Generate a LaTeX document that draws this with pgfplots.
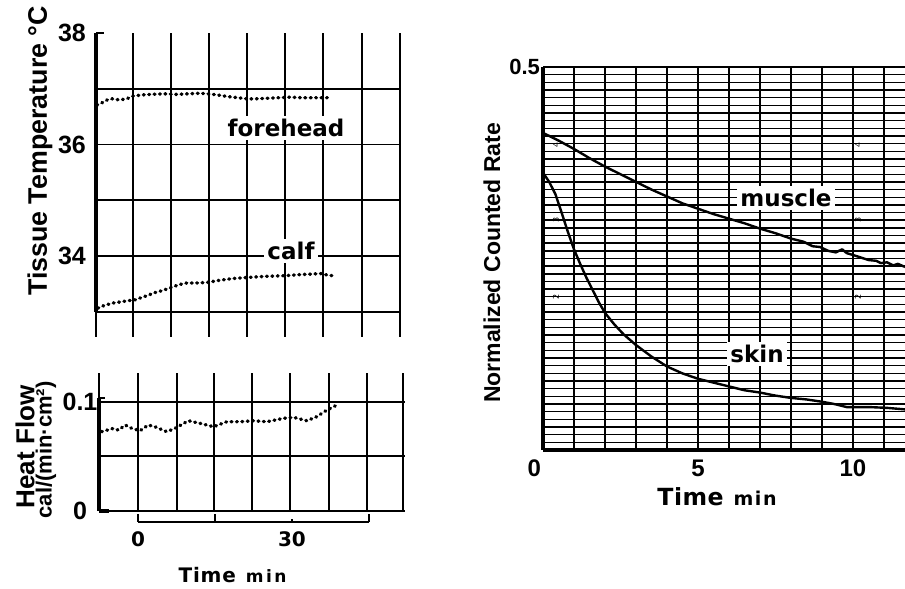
\documentclass[border=0pt]{standalone}
\usepackage{fontspec}
\setmainfont{DejaVu Sans}
\newfontfamily\lib{Liberation Sans}
\usepackage{pgfplots}
\pgfplotsset{compat=1.18}

% tick label text in a chosen face and size
\newcommand{\tl}[2]{\mbox{\lib\bfseries\fontsize{#1}{#1}\selectfont #2}}

% chart-paper look shared by the panels
\pgfplotsset{
  paper/.style={
    scale only axis,
    clip=false,
    axis line style={draw=none},
    tick style={draw=none},
    major tick length=0pt,
    minor tick length=0pt,
    grid style={black, line width=0.9pt},
    /pgf/number format/assume math mode=true,
  },
  trace/.style={black, line width=1.7pt, line cap=round,
    dash pattern=on 0.4pt off 2.3pt, no marks},
  curve/.style={black, line width=1.2pt, no marks, line join=round},
}

\begin{document}
\begin{tikzpicture}
\path[use as bounding box] (0,0) rectangle (452.5pt,294.5pt);

% ---------------- tissue temperature ----------------
\begin{axis}[paper,
  at={(48pt,126pt)}, anchor=south west,
  width=152pt, height=152pt,
  xmin=-8.18, xmax=51.04, ymin=32.552, ymax=38,
  xtick={-8.18,-0.97,6.43,13.83,21.24,28.64,36.04,43.64,51.04},
  xticklabels={}, xmajorgrids,
  ytick={34,36,38}, yticklabels={\tl{12.5}{34},\tl{12.5}{36},\tl{12.5}{38}},
  yticklabel style={anchor=center, xshift=-12pt},
  extra y ticks={33,34,35,36,37}, extra y tick labels={},
  extra y tick style={grid=major},
]
\draw[line width=1.7pt] (axis cs:-8.18,33) -- (axis cs:-8.18,38);
\draw[line width=1pt] (axis cs:-8.18,38) -- (axis cs:-6.6,38);
% forehead
\addplot[trace] coordinates {
 (-8.0,36.71) (-7.2,36.74) (-6.0,36.80) (-5.0,36.82) (-3.6,36.80) (-2.2,36.82)
 (-1.0,36.87) (0.8,36.89) (2.5,36.90) (5,36.91) (7.5,36.90) (9.8,36.91)
 (12,36.92) (13.6,36.91) (15.5,36.89) (17.5,36.86) (19.5,36.84) (21.2,36.82)
 (23,36.82) (25,36.83) (27.5,36.84) (29.6,36.85) (32,36.84) (34.5,36.84) (37.4,36.84)};
% calf
\addplot[trace] coordinates {
 (-7.8,33.07) (-6.5,33.12) (-4.9,33.16) (-3.5,33.18) (-2.1,33.20) (-0.5,33.22)
 (0.4,33.25) (2,33.30) (3,33.34) (4.6,33.38) (6.2,33.43) (8,33.49) (9.5,33.52)
 (11.5,33.52) (13.5,33.53) (16,33.57) (18.5,33.60) (21.5,33.62) (25.1,33.64)
 (28.5,33.65) (31.6,33.67) (34,33.68) (35.5,33.69) (37,33.66) (38,33.65)};
\end{axis}

% ---------------- heat flow ----------------
\begin{axis}[paper,
  at={(49.5pt,39pt)}, anchor=south west,
  width=153pt, height=69pt,
  xmin=-7.6, xmax=52.0, ymin=0, ymax=0.1263,
  xtick={-7.6,0,7.60,14.81,22.21,29.61,37.21,44.61,51.62},
  xticklabels={}, xmajorgrids,
  ytick={0,0.1}, yticklabels={\tl{12.5}{0},\tl{12.5}{0.1}},
  yticklabel style={anchor=center, xshift=-9.5pt},
  extra y ticks={0,0.05,0.1}, extra y tick labels={},
  extra y tick style={grid=major},
]
\draw[line width=1.6pt] (axis cs:-7.6,0) -- (axis cs:-7.6,0.1034);
\draw[line width=1pt] (axis cs:-7.6,0.1034) -- (axis cs:-6.4,0.1034);
\draw[line width=1.6pt] (axis cs:-7.6,0) -- (axis cs:-5.6,0);
\addplot[trace] coordinates {
 (-7.1,0.0726) (-4.8,0.0756) (-3.8,0.0740) (-2.5,0.0787) (-1.2,0.0756)
 (0.4,0.0735) (2.0,0.0787) (3.3,0.0771) (5.6,0.0726) (7.2,0.0756)
 (9.8,0.0826) (12.1,0.0802) (14.7,0.0771) (17.3,0.0817) (19.9,0.0817)
 (22.5,0.0826) (25.1,0.0817) (28.3,0.0848) (30.3,0.0857) (32.9,0.0826)
 (34.8,0.0863) (36.8,0.0924) (39.0,0.0976)};
\end{axis}

% time scale under the left panels
\begin{axis}[scale only axis,
  at={(69pt,33.5pt)}, anchor=south west,
  width=115.5pt, height=10pt,
  xmin=0, xmax=45, ymin=0, ymax=1,
  axis x line*=bottom, axis y line=none,
  axis line style={line width=1.3pt},
  xtick={0,15,45}, xticklabels={\mbox{\bfseries\fontsize{10}{12}\selectfont 0},,},
  extra x ticks={30}, extra x tick labels={\mbox{\bfseries\fontsize{10}{12}\selectfont 30}},
  extra x tick style={major tick length=1.6pt},
  tick align=inside, major tick length=4pt,
  tick style={black, line width=1.1pt},
  xticklabel style={yshift=-1.5pt},
  /pgf/number format/assume math mode=true,
]
\end{axis}

% ---------------- normalized counted rate ----------------
\begin{axis}[scale only axis, clip=false,
  at={(271.5pt,69.5pt)}, anchor=south west,
  width=181pt, height=191.5pt,
  xmin=0, xmax=11.68, ymin=0, ymax=0.5,
  axis x line*=bottom, axis y line*=left,
  axis line style={line width=1.6pt},
  xtick={0,5,10}, xticklabels={\makebox[0pt][r]{\tl{12}{0}\kern1pt},\tl{12}{5},\tl{12}{10}},
  minor xtick={0,1,...,11},
  ytick={0.5}, yticklabels={\tl{11}{0.5}},
  minor ytick={0,0.01,...,0.505},
  xminorgrids, yminorgrids,
  minor x grid style={black, line width=1.0pt},
  minor y grid style={black, line width=0.7pt},
  major tick length=0pt, minor tick length=0pt,
  xticklabel style={yshift=-1.5pt},
  yticklabel style={xshift=2pt},
  /pgf/number format/assume math mode=true,
]
% muscle
\addplot[curve] coordinates {
 (0,0.414) (0.5,0.404) (1,0.393) (1.5,0.381) (2,0.370) (2.5,0.360) (3,0.350)
 (3.5,0.340) (4,0.331) (4.5,0.322) (5,0.315) (5.5,0.308) (6,0.302) (6.5,0.296)
 (7,0.289) (7.5,0.283) (8,0.276) (8.4,0.272) (8.7,0.266) (8.94,0.265)
 (9.2,0.260) (9.45,0.258) (9.65,0.262) (9.8,0.257) (10.05,0.254) (10.2,0.252)
 (10.5,0.248) (10.75,0.247) (10.9,0.244) (11.1,0.245) (11.3,0.241) (11.45,0.243) (11.68,0.239)};
% skin
\addplot[curve] coordinates {
 (0,0.362) (0.2,0.350) (0.4,0.334) (0.6,0.310) (0.8,0.285) (1.0,0.262)
 (1.2,0.243) (1.4,0.225) (1.6,0.209) (1.8,0.193) (2.0,0.179) (2.3,0.164)
 (2.6,0.151) (3.0,0.137) (3.5,0.122) (4.0,0.109) (4.5,0.100) (5.0,0.093)
 (5.5,0.088) (6.0,0.083) (6.5,0.078) (7.0,0.075) (7.5,0.071) (8.0,0.068)
 (8.5,0.066) (9.0,0.063) (9.4,0.060) (9.8,0.056) (10.55,0.056) (11.1,0.055) (11.68,0.053)};
\end{axis}

% paper scale digits
\foreach \yy/\dd in {222/4, 184.5/3, 146/2} {
  \node[rotate=90, font=\fontsize{4}{4}\selectfont, inner sep=0.3pt] at (278pt,\yy pt) {\dd};
  \node[rotate=90, font=\fontsize{4}{4}\selectfont, inner sep=0.3pt] at (429pt,\yy pt) {\dd};
}

% curve names
\tikzset{tag/.style={fill=white, inner sep=1.5pt, font=\fontsize{11.5}{13}\selectfont\bfseries}}
\node[tag] at (143pt,230.5pt) {forehead};
\node[tag] at (145.5pt,169pt) {calf};
\node[tag] at (393pt,195.5pt) {muscle};
\node[tag] at (378.5pt,117.5pt) {skin};

% axis titles
\node[rotate=90, font=\lib\fontsize{13.4}{15}\selectfont\bfseries] at (20pt,219pt) {Tissue Temperature °C};
\node[rotate=90, font=\lib\fontsize{13}{15}\selectfont\bfseries] at (12.5pt,71pt) {Heat Flow};
\node[rotate=90, font=\lib\fontsize{11}{13}\selectfont\bfseries] at (23pt,69.5pt) {cal/(min·cm²)};
\node[font=\bfseries] at (116.25pt,7pt) {{\fontsize{10}{12}\selectfont\addfontfeatures{LetterSpace=4}Time}\hspace{5pt}{\fontsize{8.5}{10}\selectfont\addfontfeatures{LetterSpace=14}min}};
\node[font=\bfseries] at (358.5pt,46pt) {{\fontsize{11.8}{13}\selectfont\addfontfeatures{LetterSpace=2}Time}\hspace{5pt}{\fontsize{9.5}{11}\selectfont\addfontfeatures{LetterSpace=8}min}};
\node[rotate=90, font=\lib\fontsize{11.5}{13}\selectfont\bfseries] at (246pt,163pt) {Normalized Counted Rate};
\end{tikzpicture}
\end{document}
